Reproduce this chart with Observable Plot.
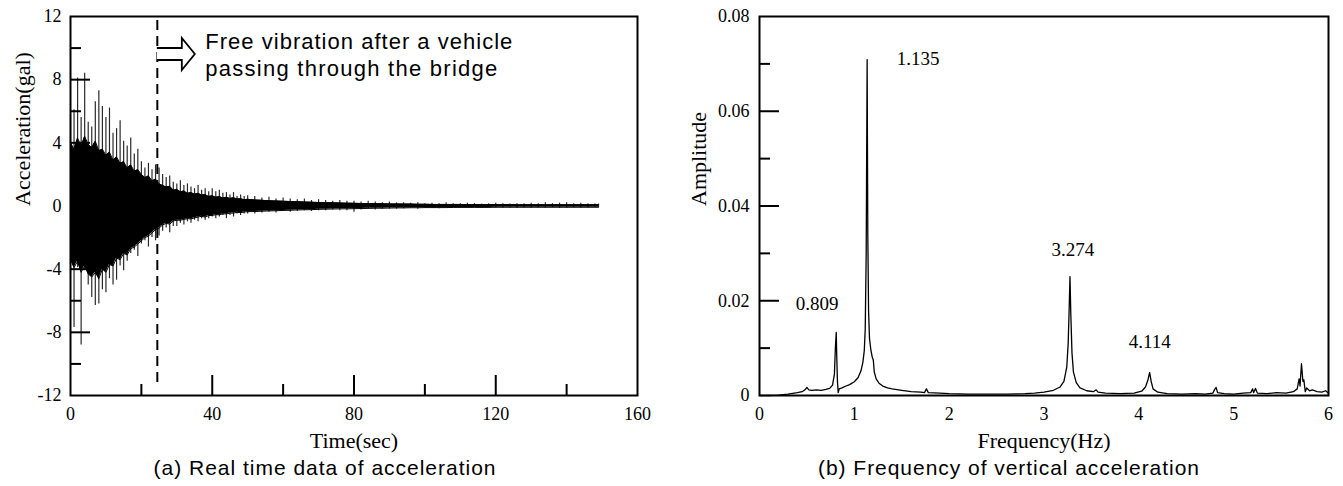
<!DOCTYPE html>
<html><head><meta charset="utf-8">
<script src="https://cdn.jsdelivr.net/npm/d3@7"></script>
<script src="https://cdn.jsdelivr.net/npm/@observablehq/plot@0.6"></script>
<style>
html,body{margin:0;padding:0;background:#fff;overflow:hidden}
#wrap{display:flex;width:1343px;height:486px}
#wrap svg{display:block;flex:none}
</style></head><body><div id="wrap"></div>
<script>
// ---------- (a) time history: spike envelope ----------
const sigTime = [0,1,2,3,4,5,6,7,8,9,10,
  11,12,13,14,15,16,17,18,19,20,
  21,22,23,24,25,26,27,28,29,30,
  31,32,33,34,35,36,37,38,39,40,
  41,42,43,44,45,46,47,48,49,50,
  52,54,56,58,60,62,64,66,68,70,
  72,74,76,78,80,82,84,86,88,90,
  92,94,96,98,100,102,104,106,108,110,
  112,114,116,118,120,122,124,126,128,130,
  132,134,136,138,140,142,144,146,148,149];
// outer spike tips
const sigHi = [5.8,6.1,8.1,5.6,8.4,5.3,5.0,6.6,7.3,6.3,5.6,
  6.2,4.6,4.9,5.4,4.1,3.8,4.3,3.3,3.6,2.8,
  2.4,2.7,2.3,2.6,2.4,2.0,1.8,1.9,1.5,1.4,
  1.6,1.3,1.4,1.2,1.1,1.3,1.0,1.1,0.9,1.1,
  0.9,1.0,0.8,0.85,0.7,0.85,0.6,0.7,0.6,0.65,
  0.6,0.5,0.55,0.45,0.5,0.45,0.4,0.45,0.35,0.4,
  0.35,0.3,0.35,0.3,0.3,0.25,0.3,0.25,0.2,0.25,
  0.2,0.2,0.18,0.2,0.15,0.18,0.15,0.2,0.15,0.15,
  0.18,0.15,0.12,0.15,0.18,0.15,0.12,0.15,0.15,0.18,
  0.15,0.2,0.15,0.18,0.2,0.15,0.18,0.15,0.12,0.12];
const sigLo = [-4.3,-7.7,-3.9,-8.8,-4.0,-5.0,-5.8,-6.3,-6.2,-5.3,-5.5,
  -4.6,-5.0,-4.7,-3.8,-4.1,-3.5,-3.0,-2.8,-3.2,-2.4,
  -2.2,-2.6,-2.0,-2.2,-1.9,-1.6,-1.4,-1.7,-1.3,-1.3,
  -1.1,-1.2,-1.0,-1.1,-0.9,-1.0,-0.8,-0.9,-0.8,-0.7,
  -0.8,-0.7,-0.6,-0.8,-0.6,-0.7,-0.5,-0.6,-0.5,-0.5,
  -0.5,-0.45,-0.4,-0.45,-0.35,-0.4,-0.35,-0.3,-0.35,-0.3,
  -0.3,-0.25,-0.3,-0.3,-0.4,-0.25,-0.2,-0.25,-0.2,-0.2,
  -0.2,-0.18,-0.15,-0.2,-0.15,-0.15,-0.18,-0.15,-0.12,-0.15,
  -0.15,-0.12,-0.15,-0.15,-0.12,-0.15,-0.12,-0.15,-0.12,-0.15,
  -0.12,-0.15,-0.12,-0.15,-0.15,-0.12,-0.15,-0.12,-0.1,-0.1];
// dense (solid black) core of the signal, same sample times
const coreHi = [4.0,3.6,4.3,3.8,4.4,3.9,3.7,4.1,3.5,3.6,3.2,
  3.4,2.9,3.1,2.7,2.8,2.4,2.6,2.2,2.3,2.0,
  1.8,1.9,1.6,1.7,1.4,1.3,1.2,1.25,1.0,1.05,
  0.9,0.95,0.8,0.85,0.75,0.8,0.7,0.72,0.6,0.65,
  0.55,0.6,0.5,0.55,0.48,0.52,0.45,0.46,0.4,0.42,
  0.38,0.36,0.33,0.32,0.3,0.28,0.27,0.25,0.24,0.22,
  0.21,0.2,0.19,0.18,0.17,0.16,0.15,0.15,0.14,0.13,
  0.13,0.12,0.12,0.11,0.11,0.1,0.1,0.1,0.1,0.1,
  0.09,0.09,0.09,0.09,0.09,0.09,0.09,0.08,0.08,0.08,
  0.08,0.08,0.08,0.08,0.08,0.08,0.08,0.08,0.08,0.08];
const coreLo = [-3.4,-3.9,-3.5,-4.2,-3.8,-4.3,-4.5,-4.2,-4.6,-4.0,-4.2,
  -3.7,-3.8,-3.3,-3.4,-3.0,-3.1,-2.7,-2.6,-2.4,-2.2,
  -2.0,-1.9,-1.7,-1.5,-1.4,-1.2,-1.1,-1.15,-0.95,-0.9,
  -0.9,-0.85,-0.8,-0.82,-0.75,-0.7,-0.65,-0.7,-0.6,-0.6,
  -0.55,-0.55,-0.5,-0.5,-0.45,-0.45,-0.4,-0.42,-0.38,-0.36,
  -0.35,-0.33,-0.31,-0.3,-0.28,-0.27,-0.25,-0.24,-0.23,-0.21,
  -0.2,-0.19,-0.18,-0.18,-0.17,-0.16,-0.15,-0.14,-0.14,-0.13,
  -0.12,-0.12,-0.11,-0.11,-0.1,-0.1,-0.1,-0.1,-0.09,-0.09,
  -0.09,-0.09,-0.09,-0.09,-0.08,-0.08,-0.08,-0.08,-0.08,-0.08,
  -0.08,-0.08,-0.08,-0.08,-0.08,-0.08,-0.08,-0.08,-0.08,-0.08];
const freeVibrationStart = 24.5; // sec, vehicle leaves the bridge
const timeLabels = [0,40,80,120,160];
const timeMajor = [40,80,120];
const timeMinor = [20,60,100,140];
const accLabels = [-12,-8,-4,0,4,8,12];
const accMajor = [-8,-4,4,8];
const accMinor = [-10,-6,-2,2,6,10];

// ---------- (b) spectrum ----------
const freq = [0,0.1,0.2,0.3,0.4,0.45,0.48,0.5,0.52,0.55,
  0.6,0.65,0.7,0.74,0.77,0.79,0.8,0.809,0.815,0.822,
  0.83,0.84,0.87,0.9,0.95,1.0,1.04,1.07,1.09,1.105,
  1.115,1.125,1.135,1.142,1.15,1.16,1.175,1.19,1.2,1.21,
  1.23,1.26,1.3,1.35,1.4,1.5,1.6,1.7,1.74,1.76,
  1.78,1.9,2.0,2.2,2.4,2.6,2.8,2.9,3.0,3.1,
  3.17,3.21,3.24,3.255,3.265,3.274,3.283,3.295,3.31,3.34,
  3.38,3.45,3.52,3.55,3.57,3.65,3.8,3.95,4.03,4.07,
  4.095,4.114,4.13,4.15,4.2,4.3,4.45,4.6,4.7,4.78,
  4.8,4.815,4.83,4.9,5.0,5.1,5.18,5.2,5.21,5.23,
  5.25,5.35,5.45,5.55,5.63,5.67,5.69,5.7,5.715,5.73,
  5.74,5.755,5.77,5.8,5.83,5.88,5.93,5.97,6.0];
const amp = [0,0,0.0001,0.0003,0.0006,0.0008,0.0012,0.0017,0.0012,0.0011,
  0.0012,0.0011,0.0013,0.0015,0.0022,0.0045,0.0100,0.0133,0.0080,0.0030,
  0.0006,0.0014,0.0016,0.0019,0.0023,0.0029,0.0038,0.0052,0.0070,0.0095,
  0.0140,0.0300,0.0709,0.0340,0.0180,0.0120,0.0095,0.0080,0.0075,0.0050,
  0.0035,0.0026,0.0020,0.0016,0.0014,0.0011,0.0008,0.0007,0.0006,0.0014,
  0.0006,0.0005,0.0004,0.0003,0.0003,0.0003,0.0004,0.0005,0.0007,0.0011,
  0.0018,0.0030,0.0060,0.0110,0.0180,0.0251,0.0170,0.0090,0.0050,0.0027,
  0.0016,0.0010,0.0008,0.0012,0.0007,0.0005,0.0004,0.0005,0.0009,0.0018,
  0.0032,0.0049,0.0030,0.0014,0.0007,0.0004,0.0003,0.0004,0.0003,0.0005,
  0.0013,0.0017,0.0006,0.0004,0.0003,0.0005,0.0006,0.0014,0.0006,0.0015,
  0.0005,0.0004,0.0006,0.0005,0.0008,0.0014,0.0035,0.0020,0.0067,0.0030,
  0.0033,0.0008,0.0016,0.0010,0.0012,0.0008,0.0007,0.0010,0.0005];
const peakFreq = [0.809,1.135,3.274,4.114];
const peakAmp = [0.0133,0.0709,0.0251,0.0049];
const peakText = ["0.809","1.135","3.274","4.114"];
const freqLabels = [0,1,2,3,4,5,6];
const ampLabels = [0,0.02,0.04,0.06,0.08];
const ampMajor = [0.02,0.04,0.06];
const ampMinor = [0.01,0.03,0.05,0.07];

// ---------- build ----------
const signal = sigTime.map((t,i)=>({t, hi: sigHi[i], lo: sigLo[i], chi: coreHi[i], clo: coreLo[i]}));
const spec = freq.map((f,i)=>({f, a: amp[i]}));
const peaks = peakFreq.map((f,i)=>({f, a: peakAmp[i], label: peakText[i]}));
const labelOffset = {"0.809":[-19,-29], "1.135":[51,-1], "3.274":[3,-27], "4.114":[0,-30]};

const serif = "'Liberation Serif', 'Times New Roman', serif";
const sans = "'Liberation Sans', Arial, sans-serif";
const MAJ = 20, MIN = 11;

const LW = 680, LH = 486, Lm = {l:70, r:43, t:16, b:91};
const lpw = LW - Lm.l - Lm.r, lph = LH - Lm.t - Lm.b;
const left = Plot.plot({
  width: LW, height: LH, marginLeft: Lm.l, marginRight: Lm.r, marginTop: Lm.t, marginBottom: Lm.b,
  style: {fontFamily: serif, fontSize: "18px", color: "black", background: "white", overflow: "visible"},
  x: {domain: [0,160], label: null},
  y: {domain: [-12,12], label: null},
  marks: [
    Plot.ruleX(signal, {x: "t", y1: "lo", y2: "hi", stroke: "#2a2a2a", strokeWidth: 1.2}),
    Plot.areaY(signal, {x: "t", y1: "clo", y2: "chi", fill: "black"}),
    Plot.lineY(signal, {x: "t", y: "chi", stroke: "black", strokeWidth: 1}),
    Plot.lineY(signal, {x: "t", y: "clo", stroke: "black", strokeWidth: 1}),
    Plot.ruleX([freeVibrationStart], {x: d=>d, insetTop: 4, insetBottom: 10, stroke: "black", strokeWidth: 2, strokeDasharray: "10,6"}),
    Plot.tickY(accMajor, {y: d=>d, insetRight: lpw - MAJ, strokeWidth: 2}),
    Plot.tickY(accMinor, {y: d=>d, insetRight: lpw - MIN, strokeWidth: 2}),
    Plot.tickX(timeMajor, {x: d=>d, insetTop: lph - MAJ, strokeWidth: 2}),
    Plot.tickX(timeMinor, {x: d=>d, insetTop: lph - MIN, strokeWidth: 2}),
    Plot.axisX({ticks: timeLabels, tickSize: 0, tickPadding: 12, tickFormat: d=>String(d), label: null}),
    Plot.axisY({ticks: accLabels, tickSize: 0, tickPadding: 9, tickFormat: d=>String(d), label: null}),
    Plot.frame({stroke: "black", strokeWidth: 2}),
    Plot.text(["Time(sec)"], {text: d=>d, frameAnchor: "bottom", dy: 45, lineAnchor: "middle", fontSize: 22}),
    Plot.text(["Acceleration(gal)"], {text: d=>d, frameAnchor: "left", dx: -48, rotate: -90, lineAnchor: "middle", fontSize: 22}),
    Plot.text(["(a) Real time data of acceleration"], {text: d=>d, frameAnchor: "bottom", dx: -29.5, dy: 73, lineAnchor: "middle", fontFamily: sans, fontSize: 21}),
    Plot.text(["Free vibration after a vehicle"], {text: d=>d, x: ()=>freeVibrationStart, frameAnchor: "top", dx: 48, dy: 25, textAnchor: "start", lineAnchor: "middle", fontFamily: sans, fontSize: 22}),
    Plot.text(["passing through the bridge"], {text: d=>d, x: ()=>freeVibrationStart, frameAnchor: "top", dx: 48, dy: 52, textAnchor: "start", lineAnchor: "middle", fontFamily: sans, fontSize: 22})
  ]
});

const RW = 663, RH = 486, Rm = {l:79, r:15, t:16, b:91};
const rpw = RW - Rm.l - Rm.r;
const right = Plot.plot({
  width: RW, height: RH, marginLeft: Rm.l, marginRight: Rm.r, marginTop: Rm.t, marginBottom: Rm.b,
  style: {fontFamily: serif, fontSize: "18px", color: "black", background: "white", overflow: "visible"},
  x: {domain: [0,6], label: null},
  y: {domain: [0,0.08], label: null},
  marks: [
    Plot.line(spec, {x: "f", y: "a", stroke: "black", strokeWidth: 1.3}),
    Plot.tickY(ampMajor, {y: d=>d, insetRight: rpw - MAJ, strokeWidth: 2}),
    Plot.tickY(ampMinor, {y: d=>d, insetRight: rpw - MIN, strokeWidth: 2}),
    Plot.axisX({ticks: freqLabels, tickSize: 0, tickPadding: 12, tickFormat: d=>String(d), label: null}),
    Plot.axisY({ticks: ampLabels, tickSize: 0, tickPadding: 10, tickFormat: d=>String(d), label: null}),
    Plot.frame({stroke: "black", strokeWidth: 2}),
    ...peaks.map(p => Plot.text([p], {x: "f", y: "a", text: "label", dx: labelOffset[p.label][0], dy: labelOffset[p.label][1], lineAnchor: "middle", fontSize: 19})),
    Plot.text(["Frequency(Hz)"], {text: d=>d, frameAnchor: "bottom", dy: 45, lineAnchor: "middle", fontSize: 22}),
    Plot.text(["Amplitude"], {text: d=>d, frameAnchor: "left", dx: -61, rotate: -90, lineAnchor: "middle", fontSize: 22}),
    Plot.text(["(b) Frequency of vertical acceleration"], {text: d=>d, frameAnchor: "bottom", dx: -35.5, dy: 73, lineAnchor: "middle", fontFamily: sans, fontSize: 21})
  ]
});

function fit(svg, str, len) {
  d3.select(svg).selectAll("text").filter(function(){ return this.textContent === str; })
    .attr("textLength", len).attr("lengthAdjust", "spacing");
}
fit(left, "(a) Real time data of acceleration", 342);
fit(left, "Free vibration after a vehicle", 307);
fit(left, "passing through the bridge", 292);
fit(right, "(b) Frequency of vertical acceleration", 381);

// hollow arrow pointing into the free-vibration region
const x0 = left.scale("x").apply(freeVibrationStart);
const yc = Lm.t + 38;
d3.select(left).append("path")
  .attr("d", `M${x0},${yc-6}H${x0+25}V${yc-16}L${x0+38},${yc}L${x0+25},${yc+16}V${yc+6}H${x0}`)
  .attr("fill", "white").attr("stroke", "black").attr("stroke-width", 1.8).attr("stroke-linejoin", "miter");

document.getElementById("wrap").append(left, right);
</script></body></html>
